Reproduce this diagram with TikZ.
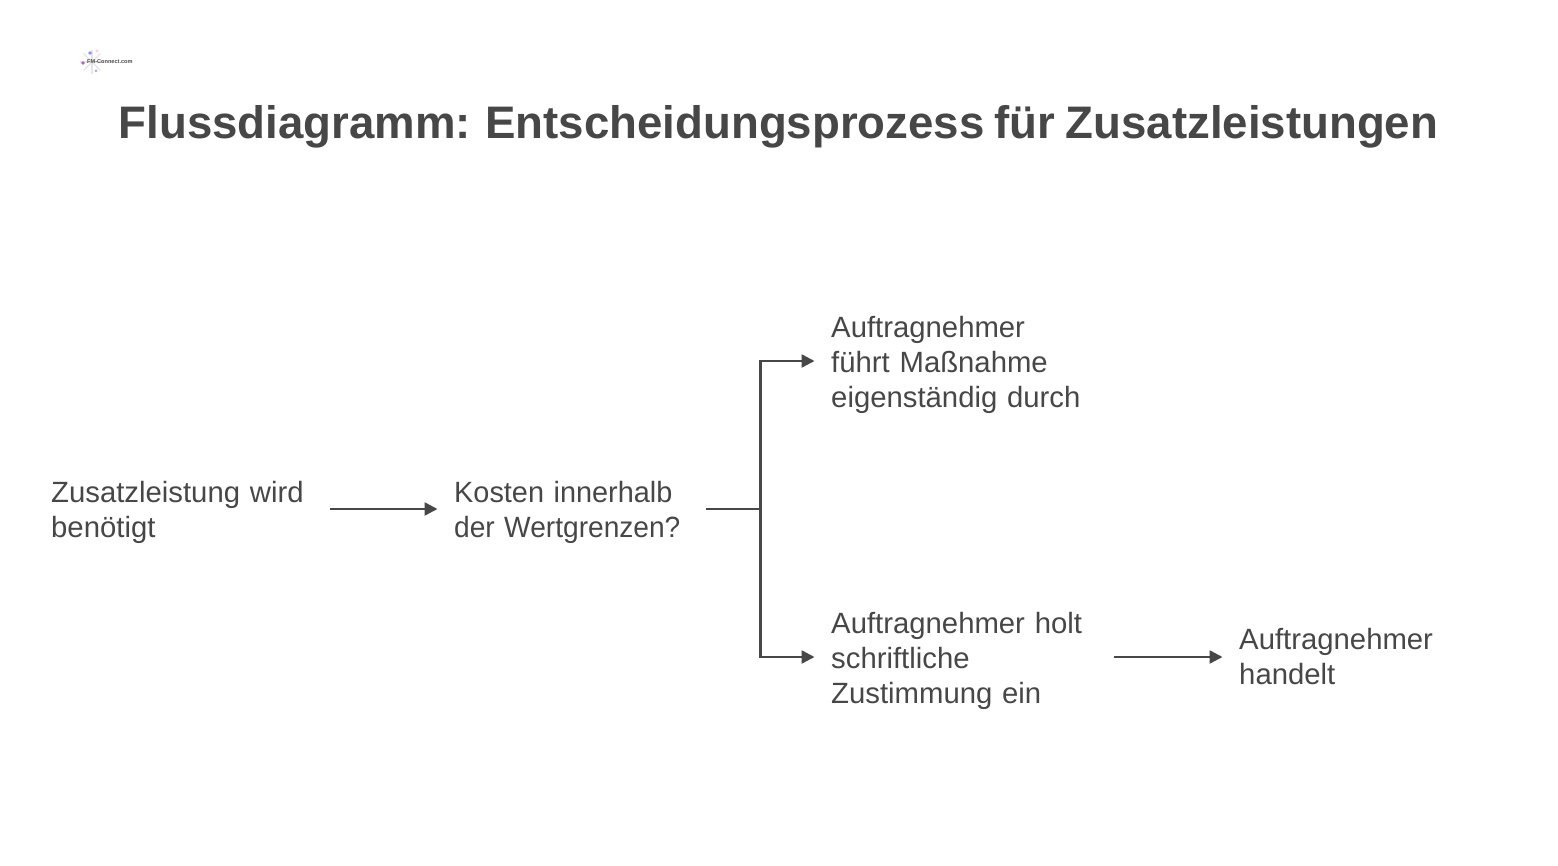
\documentclass[tikz,border=0pt]{standalone}
\usepackage{fontspec}
\setmainfont[WordSpace=0.8]{Liberation Sans}
\usetikzlibrary{arrows.meta}
\definecolor{ink}{HTML}{474747}
\hyphenpenalty=10000
\exhyphenpenalty=10000
\tikzset{
 lbl/.style={anchor=west,text=ink,align=left,inner xsep=16.5pt,inner ysep=0pt,font=\fontsize{29.3}{35}\selectfont},
 conn/.style={draw=ink,line width=2.4pt,-{Triangle[length=13pt,width=13pt]}},
 plainconn/.style={draw=ink,line width=2.4pt},
}
\begin{document}
\begin{tikzpicture}[x=1pt,y=-1pt]
\useasboundingbox (0,0) rectangle (1558,866);
\fill[white] (0,0) rectangle (1558,866);
% logo
\foreach \a in {0,45,...,315}{\draw[black!10,line width=1.4pt] (92,62) -- ++(\a:12);}
\fill[violet!60] (83,63) circle (1.8);
\fill[blue!45] (90,53) circle (1.8);
\fill[red!20] (97,51) circle (1.5);
\fill[blue!35] (96,71) circle (1.5);
\node[inner sep=0pt,anchor=west,text=black!70] (logo) at (87,62) {\fontsize{5.6}{6}\selectfont\textbf{FM-Connect.com}};
% title
\node[inner sep=0pt,text=ink] (title) at (778.5,127) {\fontsize{45.6}{52}\selectfont\bfseries Flussdiagramm: Entscheidungsprozess für Zusatzleistungen};
% nodes
\node[lbl,text width=262pt] (a) at (34.5,512.5) {Zusatzleistung wird\\benötigt};
\node[lbl,text width=235pt] (b) at (437.5,512.5) {\scalebox{.985}[1]{Kosten innerhalb}\\\scalebox{.96}[1]{der Wertgrenzen?}};
\node[lbl,text width=250pt] (c) at (814.5,364.5) {Auftragnehmer\\führt Maßnahme\\eigenständig durch};
\node[lbl,text width=266pt] (d) at (814.5,660.5) {Auftragnehmer holt\\schriftliche\\Zustimmung ein};
\node[lbl,text width=200pt] (e) at (1222.5,657) {Auftragnehmer\\handelt};
\coordinate (j) at ([xshift=54.5pt,yshift=3.5pt]b.east);
% connectors
\draw[conn] ([yshift=3.5pt]a.east) -- ([yshift=3.5pt]b.west);
\draw[plainconn] ([yshift=3.5pt]b.east) -- (j);
\draw[conn] (j) |- ([yshift=3.5pt]c.west);
\draw[conn] (j) |- ([yshift=3.5pt]d.west);
\draw[conn] ([yshift=3.5pt]d.east) -- (e.west);
\end{tikzpicture}
\end{document}
